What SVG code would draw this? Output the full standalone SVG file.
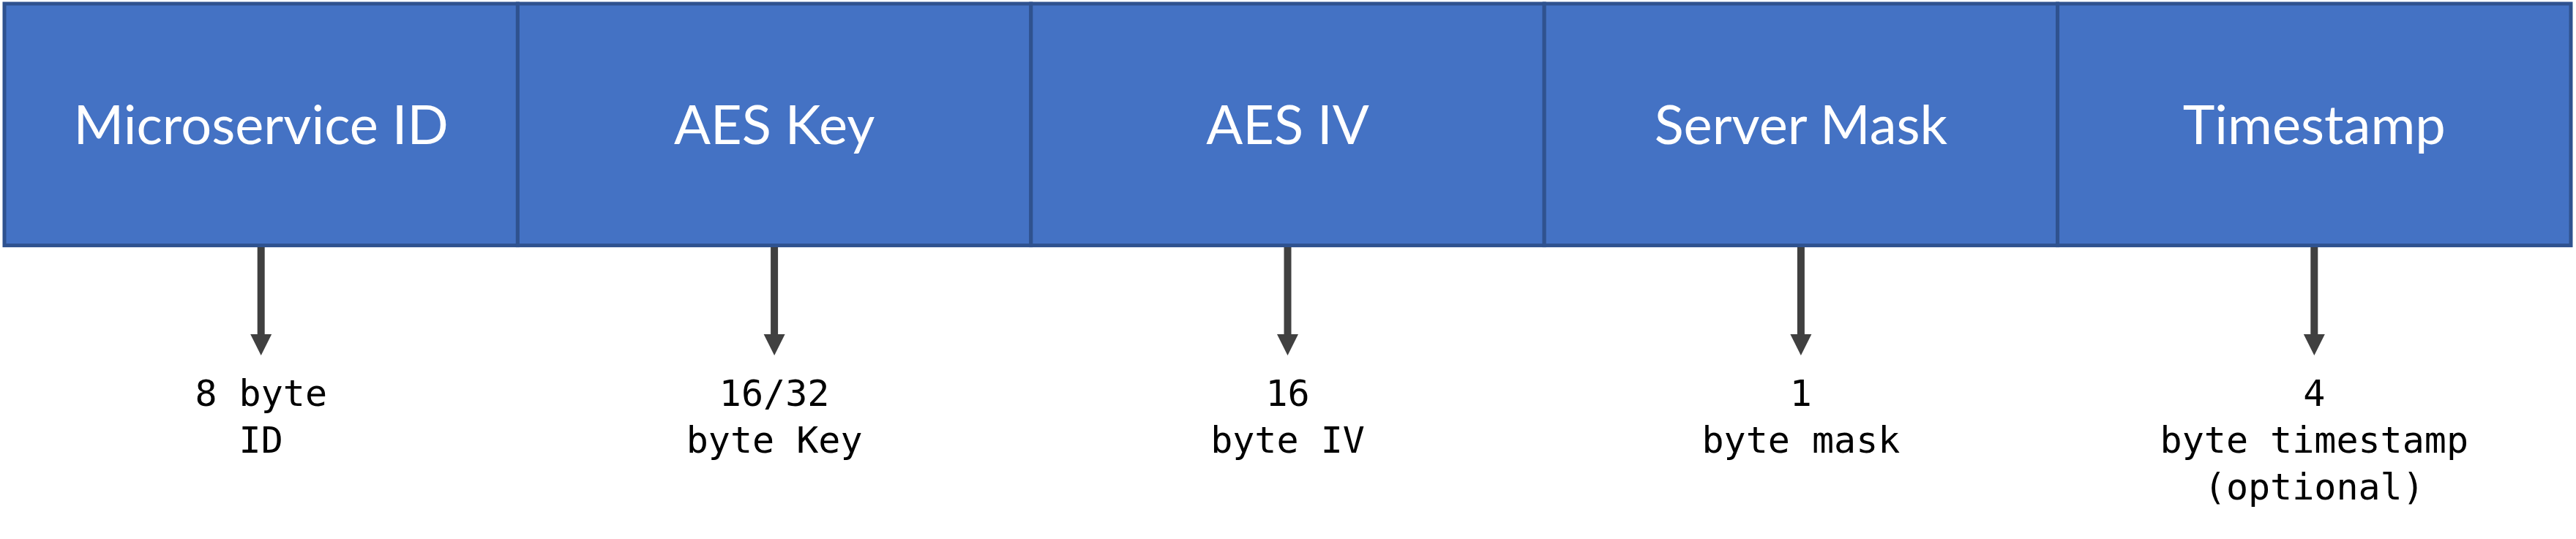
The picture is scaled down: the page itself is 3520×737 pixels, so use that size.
<svg xmlns="http://www.w3.org/2000/svg" width="3520" height="737" viewBox="0 0 3520 737">
<style>
.cell{fill:#4472C4;stroke:#2F528F;stroke-width:5}
.title{font-family:Lato,"Open Sans","Liberation Sans",sans-serif;font-size:74px;fill:#FFFFFF;text-anchor:middle}
.lbl{font-family:"DejaVu Sans Mono","Liberation Mono",monospace;font-size:50px;fill:#000000;text-anchor:middle}
.conn{stroke:#404040;stroke-width:10;fill:none}
.head{fill:#404040}
</style>
<rect x="0" y="0" width="3520" height="737" fill="#FFFFFF"/>
<g id="node-microservice-id">
<rect class="cell" x="6" y="5" width="701.4" height="330.6"/>
<text class="title" x="356.7" y="197">Microservice ID</text>
</g>
<g id="node-aes-key">
<rect class="cell" x="707.4" y="5" width="701.4" height="330.6"/>
<text class="title" x="1058.1" y="197">AES Key</text>
</g>
<g id="node-aes-iv">
<rect class="cell" x="1408.8" y="5" width="701.4" height="330.6"/>
<text class="title" x="1759.5" y="197">AES IV</text>
</g>
<g id="node-server-mask">
<rect class="cell" x="2110.2" y="5" width="701.4" height="330.6"/>
<text class="title" x="2460.9" y="197">Server Mask</text>
</g>
<g id="node-timestamp">
<rect class="cell" x="2811.6" y="5" width="701.4" height="330.6"/>
<text class="title" x="3162.3" y="197">Timestamp</text>
</g>
<g id="connectors">
<line class="conn" x1="356.7" y1="338" x2="356.7" y2="458"/>
<polygon class="head" points="342.2,457 371.2,457 356.7,486"/>
<line class="conn" x1="1058.1" y1="338" x2="1058.1" y2="458"/>
<polygon class="head" points="1043.6,457 1072.6,457 1058.1,486"/>
<line class="conn" x1="1759.5" y1="338" x2="1759.5" y2="458"/>
<polygon class="head" points="1745,457 1774,457 1759.5,486"/>
<line class="conn" x1="2460.9" y1="338" x2="2460.9" y2="458"/>
<polygon class="head" points="2446.4,457 2475.4,457 2460.9,486"/>
<line class="conn" x1="3162.3" y1="338" x2="3162.3" y2="458"/>
<polygon class="head" points="3147.8,457 3176.8,457 3162.3,486"/>
</g>
<g id="labels">
<text class="lbl" x="356.7" y="555">8 byte</text>
<text class="lbl" x="356.7" y="619">ID</text>
<text class="lbl" x="1058.1" y="555">16/32</text>
<text class="lbl" x="1058.1" y="619">byte Key</text>
<text class="lbl" x="1759.5" y="555">16</text>
<text class="lbl" x="1759.5" y="619">byte IV</text>
<text class="lbl" x="2460.9" y="555">1</text>
<text class="lbl" x="2460.9" y="619">byte mask</text>
<text class="lbl" x="3162.3" y="555">4</text>
<text class="lbl" x="3162.3" y="619">byte timestamp</text>
<text class="lbl" x="3162.3" y="683">(optional)</text>
</g>
</svg>
